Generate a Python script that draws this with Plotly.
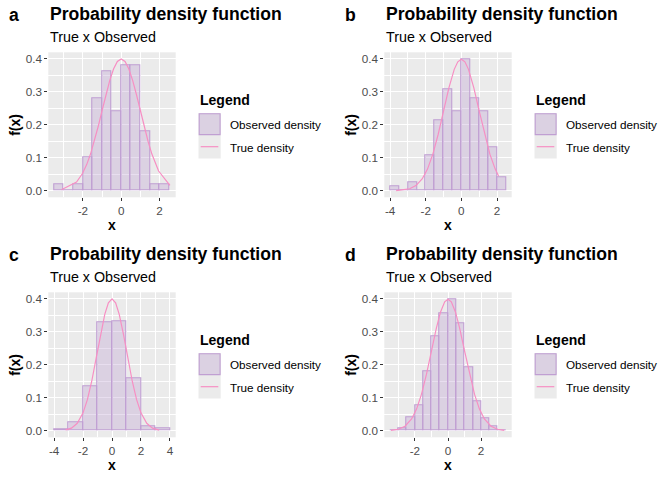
import plotly.graph_objects as go

W, H = 672, 480

# histogram bins (centres) and observed densities
a_bins = [-3.25, -2.75, -2.25, -1.75, -1.25, -0.75, -0.25, 0.25, 0.75, 1.25, 1.75, 2.25]
a_density = [0.02, 0.0, 0.02, 0.10, 0.28, 0.36, 0.24, 0.38, 0.38, 0.18, 0.02, 0.02]
b_bins = [-3.75, -3.25, -2.75, -2.25, -1.75, -1.25, -0.75, -0.25, 0.25, 0.75, 1.25, 1.75, 2.25]
b_density = [0.013, 0.0, 0.027, 0.0, 0.107, 0.213, 0.307, 0.24, 0.40, 0.28, 0.24, 0.133, 0.04]
c_bins = [-3.5, -2.5, -1.5, -0.5, 0.5, 1.5, 2.5, 3.5]
c_density = [0.003, 0.025, 0.133, 0.328, 0.332, 0.16, 0.012, 0.008]
d_bins = [-3.25, -2.75, -2.25, -1.75, -1.25, -0.75, -0.25, 0.25, 0.75, 1.25, 1.75, 2.25, 2.75, 3.25]
d_density = [0.002, 0.008, 0.042, 0.077, 0.18, 0.285, 0.356, 0.40, 0.327, 0.193, 0.09, 0.037, 0.012, 0.002]

# true density curve, read at the sample points
a_x = [-3.12, -2.33, -2.02, -1.8, -1.6, -1.4, -1.2, -1.0, -0.8, -0.6, -0.4, -0.2, 0.0,
       0.2, 0.4, 0.6, 0.8, 1.0, 1.2, 1.4, 1.6, 1.8, 1.95, 2.54]
a_y = [0.0031, 0.0264, 0.0519, 0.079, 0.1109, 0.1497, 0.1942, 0.242, 0.2897, 0.3332, 0.3683,
       0.391, 0.3989, 0.391, 0.3683, 0.3332, 0.2897, 0.242, 0.1942, 0.1497, 0.1109, 0.079, 0.0596, 0.0158]
b_x = [-3.66, -2.9, -2.55, -2.2, -1.9, -1.6, -1.3, -1.0, -0.7, -0.4, -0.2, 0.0,
       0.2, 0.4, 0.7, 1.0, 1.3, 1.6, 1.9, 2.09]
b_y = [0.0005, 0.006, 0.0154, 0.0355, 0.0656, 0.1109, 0.1714, 0.242, 0.3123, 0.3683, 0.391,
       0.3989, 0.391, 0.3683, 0.3123, 0.242, 0.1714, 0.1109, 0.0656, 0.0449]
c_x = [-3.2, -2.8, -2.4, -2.0, -1.7, -1.4, -1.1, -0.8, -0.5, -0.25, 0.0,
       0.25, 0.5, 0.8, 1.1, 1.4, 1.7, 2.0, 2.4, 2.8, 3.26]
c_y = [0.0024, 0.0079, 0.0224, 0.054, 0.094, 0.1497, 0.2179, 0.2897, 0.3521, 0.3867, 0.3989,
       0.3867, 0.3521, 0.2897, 0.2179, 0.1497, 0.094, 0.054, 0.0224, 0.0079, 0.002]
d_x = [-3.45, -3.0, -2.6, -2.2, -1.9, -1.6, -1.3, -1.0, -0.7, -0.45, -0.2, 0.0,
       0.2, 0.45, 0.7, 1.0, 1.3, 1.6, 1.9, 2.2, 2.6, 3.0, 3.4]
d_y = [0.001, 0.0044, 0.0136, 0.0355, 0.0656, 0.1109, 0.1714, 0.242, 0.3123, 0.3605, 0.391, 0.3989,
       0.391, 0.3605, 0.3123, 0.242, 0.1714, 0.1109, 0.0656, 0.0355, 0.0136, 0.0044, 0.0012]

x_ticks = [-4, -2, 0, 2, 4]
x_ticklabels = ["-4", "-2", "0", "2", "4"]
y_ticks = [0.0, 0.1, 0.2, 0.3, 0.4]
y_ticklabels = ["0.0", "0.1", "0.2", "0.3", "0.4"]

letters = ["a", "b", "c", "d"]
title = "Probability density function"
subtitle = "True x Observed"
legend_title = "Legend"
legend_labels = ["Observed density", "True density"]

BIN_W = [0.5, 0.5, 1.0, 0.5]
FILL = "rgba(190,160,210,0.35)"
EDGE = "#c09fd2"
PINK = "#f78fc3"
PANEL = "#ebebeb"
FONT = "Liberation Sans, Arial, sans-serif"

panels = [
    (a_bins, a_density, a_x, a_y),
    (b_bins, b_density, b_x, b_y),
    (c_bins, c_density, c_x, c_y),
    (d_bins, d_density, d_x, d_y),
]
offsets = [(0, 0), (336, 0), (0, 240), (336, 240)]


def px(x):
    return x / W


def py(y):
    return 1 - y / H


fig = go.Figure()
annotations = []
shapes = []

for i, ((bins, dens, lx, ly), (ox, oy)) in enumerate(zip(panels, offsets)):
    n = "" if i == 0 else str(i + 1)
    bw = BIN_W[i]
    fig.add_trace(go.Bar(
        x=bins, y=dens, width=bw, xaxis="x" + n, yaxis="y" + n,
        marker=dict(color=FILL, line=dict(color=EDGE, width=1.1)),
        showlegend=False, hoverinfo="skip",
    ))
    fig.add_trace(go.Scatter(
        x=lx, y=ly, mode="lines", xaxis="x" + n, yaxis="y" + n,
        line=dict(color=PINK, width=1.2), showlegend=False,
    ))

    lo = min(min(bins) - bw / 2, min(lx))
    hi = max(max(bins) + bw / 2, max(lx))
    pad = (hi - lo) * 0.05
    ymax = max(max(dens), max(ly))

    left, right, top, bottom = ox + 48.3, ox + 175.7, oy + 52.3, oy + 197.3
    axis_common = dict(
        showgrid=True, gridcolor="white", gridwidth=1.3, zeroline=False,
        ticks="outside", ticklen=3, tickwidth=1, tickcolor="#333333",
        tickfont=dict(family=FONT, size=11.7, color="#4d4d4d"),
        showline=False, fixedrange=True,
    )
    fig.update_layout(**{
        "xaxis" + n: dict(
            axis_common, domain=[px(left), px(right)], anchor="y" + n,
            range=[lo - pad, hi + pad], tickvals=x_ticks, ticktext=x_ticklabels,
            minor=dict(showgrid=True, gridcolor="white", gridwidth=0.6, dtick=1, tick0=0),
        ),
        "yaxis" + n: dict(
            axis_common, domain=[py(bottom), py(top)], anchor="x" + n,
            range=[-ymax * 0.05, ymax * 1.05], tickvals=y_ticks, ticktext=y_ticklabels,
            minor=dict(showgrid=True, gridcolor="white", gridwidth=0.6, dtick=0.05, tick0=0),
        ),
    })

    def note(text, x, y, size, bold=False, xanchor="left", angle=0, color="black"):
        annotations.append(dict(
            text="<b>%s</b>" % text if bold else text, x=px(x), y=py(y),
            xref="paper", yref="paper", xanchor=xanchor, yanchor="middle",
            showarrow=False, textangle=angle,
            font=dict(family=FONT, size=size, color=color),
        ))

    note(letters[i], ox + 7, oy + 15, 17.6, bold=True)
    note(title, ox + 47.5, oy + 14, 17.6, bold=True)
    note(subtitle, ox + 48, oy + 37, 14.3)
    note("f(x)", ox + 15, oy + 124.8, 14, bold=True, xanchor="center", angle=-90)
    note("x", ox + 112, oy + 225, 14, bold=True, xanchor="center")
    note(legend_title, ox + 198, oy + 100, 14, bold=True)
    note(legend_labels[0], ox + 227.5, oy + 124.3, 11.7)
    note(legend_labels[1], ox + 227.5, oy + 147.3, 11.7)

    # legend keys
    shapes.append(dict(type="rect", xref="paper", yref="paper",
                       x0=px(ox + 198.5), x1=px(ox + 220.7), y0=py(oy + 158.5), y1=py(oy + 113),
                       fillcolor=PANEL, line=dict(width=0), layer="below"))
    shapes.append(dict(type="rect", xref="paper", yref="paper",
                       x0=px(ox + 199.2), x1=px(ox + 220.1), y0=py(oy + 134.6), y1=py(oy + 113.7),
                       fillcolor=FILL, line=dict(color=EDGE, width=1.1)))
    shapes.append(dict(type="line", xref="paper", yref="paper",
                       x0=px(ox + 200.7), x1=px(ox + 218.3), y0=py(oy + 146.7), y1=py(oy + 146.7),
                       line=dict(color=PINK, width=1.2)))

fig.update_layout(
    width=W, height=H, margin=dict(l=0, r=0, t=0, b=0),
    paper_bgcolor="white", plot_bgcolor=PANEL,
    bargap=0, showlegend=False,
    annotations=annotations, shapes=shapes,
    font=dict(family=FONT),
)

# the page's default body margin would push the figure off by 8px
fig.write_html("out.html", config={"displayModeBar": False},
               post_script="document.body.style.margin = '0';")
